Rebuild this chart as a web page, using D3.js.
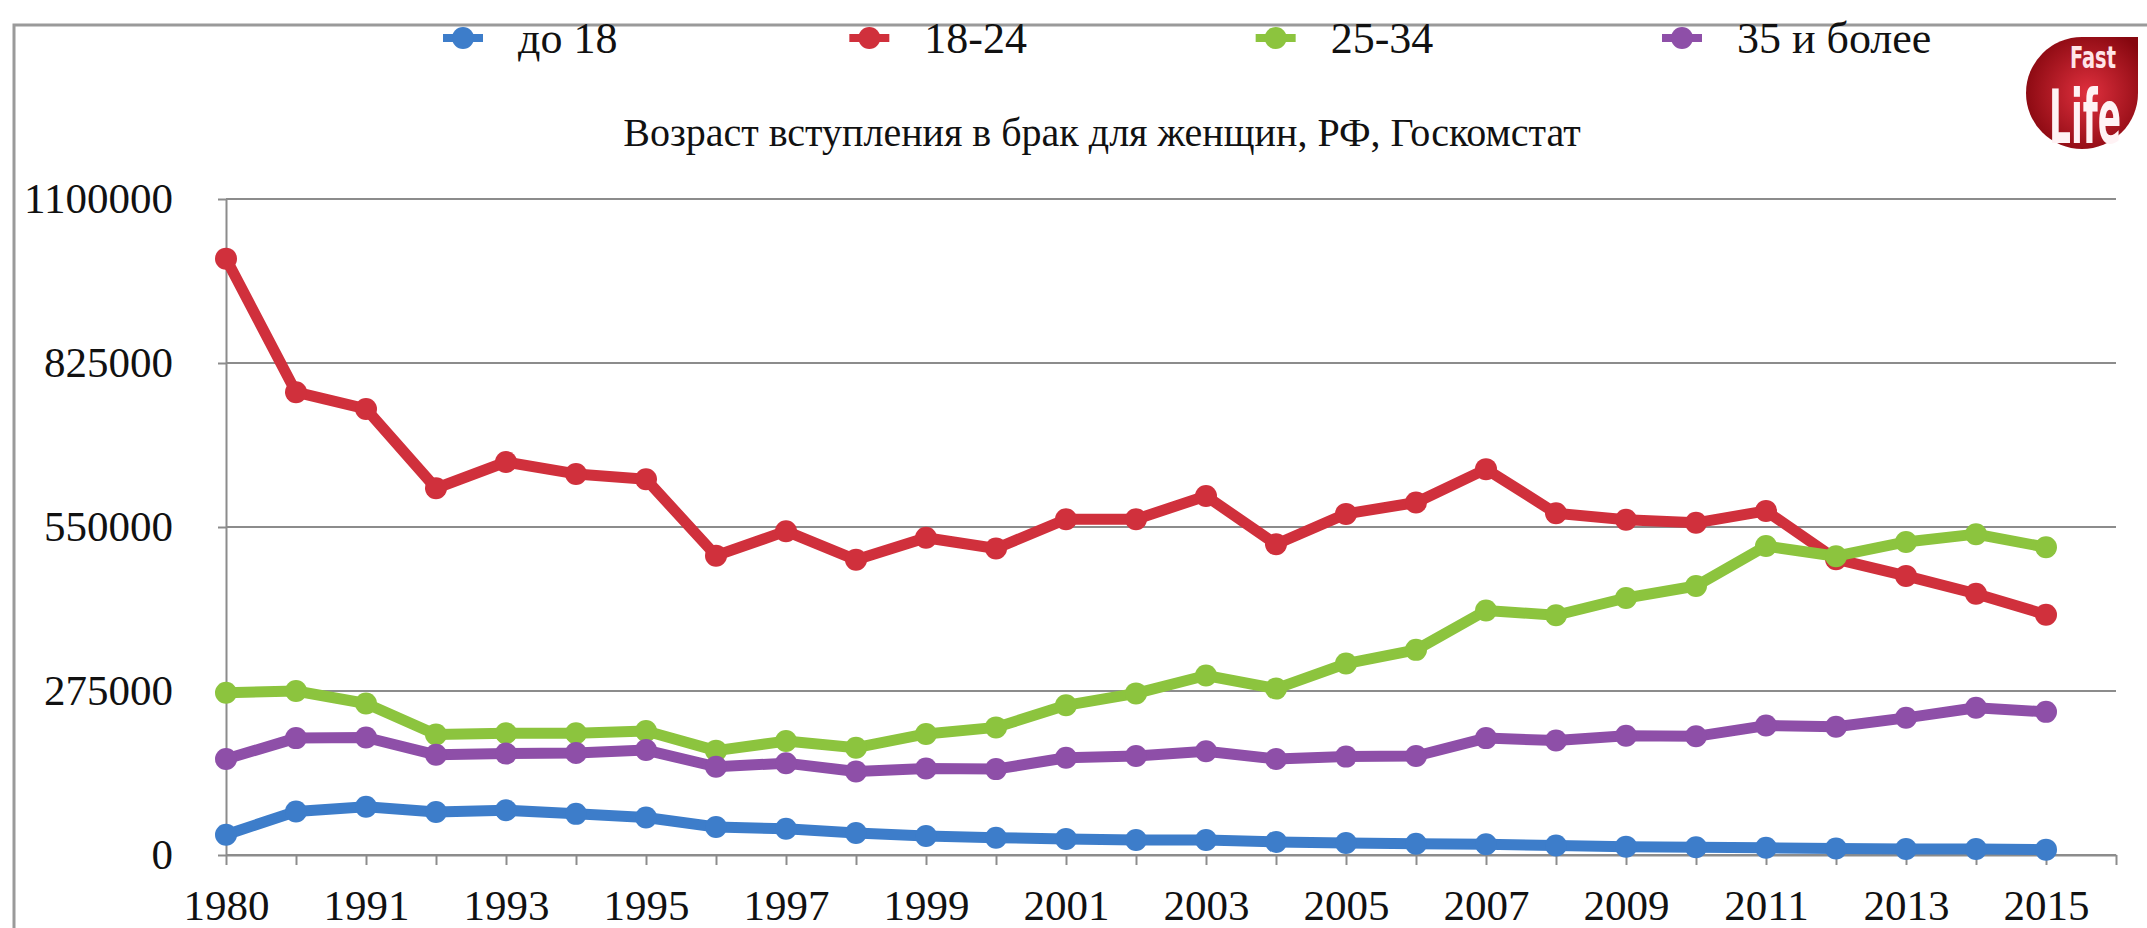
<!DOCTYPE html>
<html>
<head>
<meta charset="utf-8">
<script src="https://cdn.jsdelivr.net/npm/d3@7"></script>
<style>
  body { margin: 0; background: #fff; }
  svg text { font-family: "Liberation Serif", "Times New Roman", serif; fill: #111; }
</style>
</head>
<body>
<script>
var years = ["1980", "1990", "1991", "1992", "1993", "1994", "1995", "1996", "1997", "1998",
  "1999", "2000", "2001", "2002", "2003", "2004", "2005", "2006", "2007", "2008",
  "2009", "2010", "2011", "2012", "2013", "2014", "2015"];

var under18 = [34000, 73000, 81000, 72000, 75000, 69000, 63000, 47000, 44000, 37000,
  32000, 29000, 27000, 25000, 25000, 22000, 20000, 19000, 18000, 16000,
  14000, 13000, 12000, 11000, 10000, 10000, 9000];
var age18to24 = [1000000, 776000, 748000, 615000, 659000, 639000, 630000, 502000, 543000, 495000,
  532000, 514000, 563000, 563000, 602000, 521000, 572000, 591000, 647000, 573000,
  562000, 557000, 577000, 496000, 468000, 438000, 403000];
var age25to34 = [272000, 275000, 254000, 202000, 204000, 204000, 208000, 175000, 191000, 180000,
  203000, 214000, 251000, 271000, 301000, 279000, 321000, 344000, 410000, 402000,
  431000, 451000, 518000, 501000, 525000, 538000, 516000];
var age35plus = [161000, 196000, 197000, 168000, 170000, 171000, 176000, 148000, 154000, 140000,
  145000, 144000, 163000, 166000, 174000, 161000, 165000, 166000, 196000, 192000,
  200000, 199000, 217000, 215000, 230000, 247000, 240000];

var seriesNames = ["до 18", "18-24", "25-34", "35 и более"];
var seriesColors = ["#3d7dca", "#d0303c", "#8cc43e", "#8e4fa8"];
var yTicks = [0, 275000, 550000, 825000, 1100000];
var chartTitle = "Возраст вступления в брак для женщин, РФ, Госкомстат";

var series = [under18, age18to24, age25to34, age35plus];

var width = 2147, height = 928;
var margin = {top: 199, right: 31, bottom: 73, left: 226};

var svg = d3.select("body").append("svg")
  .attr("width", width)
  .attr("height", height);

// one empty slot after 2015, like the source axis
var xScale = d3.scaleLinear()
  .domain([0, years.length])
  .range([margin.left, width - margin.right]);

var yScale = d3.scaleLinear()
  .domain([0, 1100000])
  .range([height - margin.bottom, margin.top]);

// frame
svg.append("path")
  .attr("d", "M14," + height + "V25H" + width)
  .attr("fill", "none")
  .attr("stroke", "#9a9a9a")
  .attr("stroke-width", 3);

svg.selectAll(".grid")
  .data(yTicks)
  .enter().append("line")
  .attr("class", "grid")
  .attr("x1", xScale(0))
  .attr("x2", xScale(years.length))
  .attr("y1", function(d) { return yScale(d); })
  .attr("y2", function(d) { return yScale(d); })
  .attr("stroke", "#8c8c8c")
  .attr("stroke-width", 2);

var yAxis = d3.axisLeft(yScale)
  .tickValues(yTicks)
  .tickSize(8)
  .tickSizeOuter(0)
  .tickPadding(45)
  .tickFormat(d3.format("d"));

var xAxis = d3.axisBottom(xScale)
  .tickValues(d3.range(0, years.length + 1))
  .tickSize(10)
  .tickSizeOuter(0)
  .tickFormat(function(i) { return (i % 2 == 0 && i < years.length) ? years[i] : ""; });

var gy = svg.append("g")
  .attr("transform", "translate(" + margin.left + ",0)")
  .call(yAxis);

var gx = svg.append("g")
  .attr("transform", "translate(0," + (height - margin.bottom) + ")")
  .call(xAxis);

[gx, gy].forEach(function(g) {
  g.selectAll("path, line").attr("stroke", "#8c8c8c").attr("stroke-width", 2);
  g.selectAll("text")
    .style("font-family", "'Liberation Serif', serif")
    .style("font-size", "43px")
    .attr("fill", "#111");
});
gx.selectAll("text").attr("y", 65).attr("dy", null);

var line = d3.line()
  .x(function(d, i) { return xScale(i); })
  .y(function(d) { return yScale(d); });

series.forEach(function(values, s) {
  var g = svg.append("g");
  g.append("path")
    .datum(values)
    .attr("d", line)
    .attr("fill", "none")
    .attr("stroke", seriesColors[s])
    .attr("stroke-width", 11)
    .attr("stroke-linejoin", "round");
  g.selectAll("circle")
    .data(values)
    .enter().append("circle")
    .attr("cx", function(d, i) { return xScale(i); })
    .attr("cy", function(d) { return yScale(d); })
    .attr("r", 11)
    .attr("fill", seriesColors[s]);
});

// legend
var legendX = d3.scalePoint()
  .domain(seriesNames)
  .range([463, 1682]);

var legend = svg.selectAll(".legend")
  .data(seriesNames)
  .enter().append("g")
  .attr("class", "legend")
  .attr("transform", function(d) { return "translate(" + legendX(d) + ",38)"; });

legend.append("line")
  .attr("x1", -20).attr("x2", 20)
  .attr("stroke", function(d, i) { return seriesColors[i]; })
  .attr("stroke-width", 8);
legend.append("circle")
  .attr("r", 11)
  .attr("fill", function(d, i) { return seriesColors[i]; });
legend.append("text")
  .attr("x", 55)
  .attr("y", 15)
  .style("font-size", "44px")
  .text(function(d) { return d; });

svg.append("text")
  .attr("x", 1102)
  .attr("y", 146)
  .attr("text-anchor", "middle")
  .style("font-size", "40px")
  .text(chartTitle);

// logo
var defs = svg.append("defs");
var grad = defs.append("radialGradient").attr("id", "logoGrad")
  .attr("cx", "55%").attr("cy", "50%").attr("r", "60%");
grad.append("stop").attr("offset", "0%").attr("stop-color", "#e0303e");
grad.append("stop").attr("offset", "100%").attr("stop-color", "#86070f");

var lx = 2082, ly = 93, lr = 56;
svg.append("path")
  .attr("d", "M" + lx + "," + (ly - lr) + "H" + (lx + lr) + "V" + ly +
    "A" + lr + "," + lr + " 0 1 1 " + lx + "," + (ly - lr) + "Z")
  .attr("fill", "url(#logoGrad)");

function logoText(str, x, y, size, w, color) {
  var t = svg.append("text")
    .style("font-family", "'DejaVu Sans Condensed', 'Liberation Sans', sans-serif")
    .style("font-weight", "bold")
    .style("font-size", size + "px")
    .style("fill", color)
    .text(str);
  var k = w / t.node().getComputedTextLength();
  t.attr("transform", "translate(" + x + "," + y + ") scale(" + k + ",1)");
}
logoText("Fast", 2070, 68, 30, 46, "#ffe4e8");
logoText("Life", 2049, 143, 74, 72, "#fff2f4");
</script>
</body>
</html>
